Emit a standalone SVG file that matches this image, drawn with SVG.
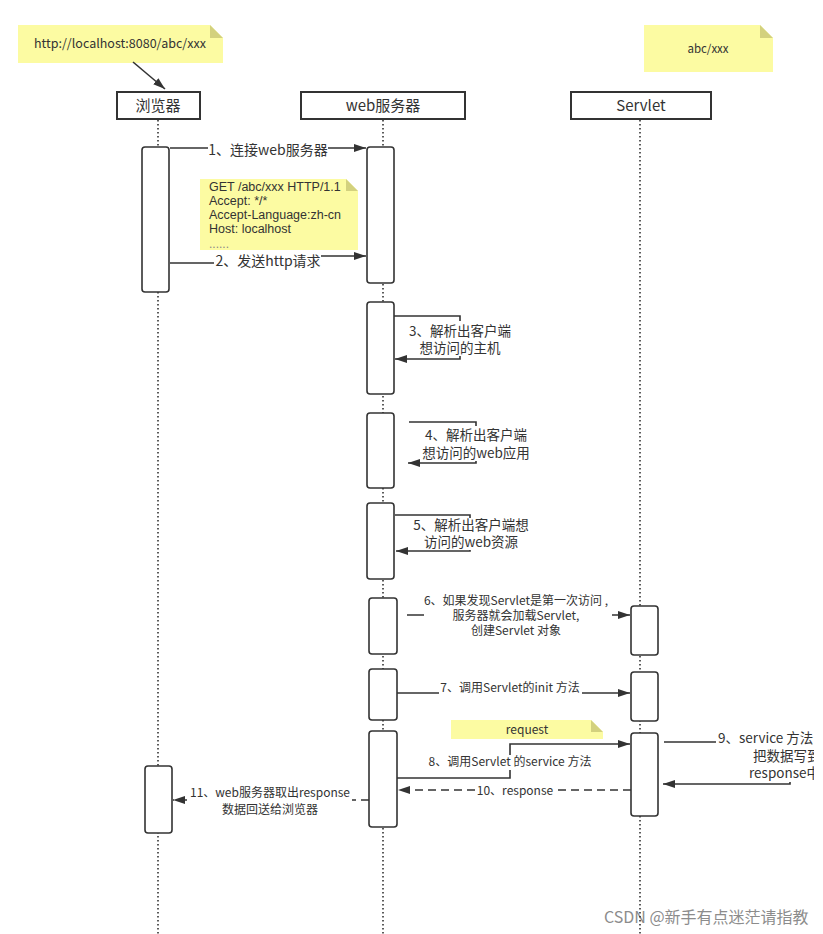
<svg xmlns="http://www.w3.org/2000/svg" width="823" height="934" viewBox="0 0 823 934">
<defs>
<marker id="ah" markerUnits="userSpaceOnUse" markerWidth="13" markerHeight="9" refX="12" refY="4" orient="auto">
<path d="M0,0 L12,4 L0,8 z" fill="#333"/>
</marker>
<clipPath id="clipR"><rect x="0" y="0" width="814" height="934"/></clipPath>
</defs>
<style>
text{font-family:"Noto Sans CJK SC","Noto Sans",sans-serif;fill:#333}
.lat{font-family:"Liberation Sans",Arial,sans-serif}
.hd{fill:#fff;stroke:#333;stroke-width:2}
.act{fill:#fff;stroke:#333;stroke-width:1.6}
.life{stroke:#333;stroke-width:1.6;stroke-dasharray:1.6 2.4;fill:none}
.msg{stroke:#333;stroke-width:1.6;fill:none}
.dash{stroke:#333;stroke-width:1.6;fill:none;stroke-dasharray:8 5}
.bg{fill:#fff}
.note{fill:#fcfba2}
.fold{fill:#d3d17e}
.c{text-anchor:middle}
</style>
<rect width="823" height="934" fill="#fff"/>
<g id="watermark">
<text x="604" y="923" font-size="16" style="fill:#8c8c8c">CSDN @新手有点迷茫请指教</text>
</g>
<g id="lifelines">
<line class="life" x1="158" y1="120" x2="158" y2="934"/>
<line class="life" x1="383" y1="120" x2="383" y2="934"/>
<line class="life" x1="640" y1="120" x2="640" y2="934"/>
</g>
<g id="browser"><rect class="hd" x="117" y="92" width="83" height="27"/><text class="c" x="158" y="111" font-size="15">浏览器</text></g>
<g id="webserver"><rect class="hd" x="301" y="92" width="164" height="27"/><text class="c" x="383" y="111" font-size="15">web服务器</text></g>
<g id="servlet"><rect class="hd" x="571" y="92" width="140" height="27"/><text class="c" x="641" y="111" font-size="15">Servlet</text></g>
<g id="activations">
<rect class="act" x="142" y="147" width="27" height="145" rx="3"/>
<rect class="act" x="145" y="766" width="27" height="67" rx="3"/>
<rect class="act" x="367" y="147" width="27" height="136" rx="3"/>
<rect class="act" x="367" y="302" width="27" height="92" rx="3"/>
<rect class="act" x="367" y="413" width="27" height="75" rx="3"/>
<rect class="act" x="367" y="503" width="27" height="76" rx="3"/>
<rect class="act" x="369" y="598" width="28" height="56" rx="3"/>
<rect class="act" x="369" y="669" width="28" height="51" rx="3"/>
<rect class="act" x="369" y="731" width="28" height="96" rx="3"/>
<rect class="act" x="631" y="606" width="27" height="49" rx="3"/>
<rect class="act" x="631" y="672" width="27" height="49" rx="3"/>
<rect class="act" x="631" y="733" width="27" height="83" rx="3"/>
</g>
<g id="note-url">
<path class="note" d="M18,25 H210 L223,38 V63 H18 z"/>
<path class="fold" d="M210,25 L223,38 H210 z"/>
<text x="34" y="48" font-size="12.5">http://localhost:8080/abc/xxx</text>
</g>
<g id="note-abc">
<path class="note" d="M644,25 H760 L773,38 V72 H644 z"/>
<path class="fold" d="M760,25 L773,38 H760 z"/>
<text class="c" x="708" y="53" font-size="11.5">abc/xxx</text>
</g>
<g id="note-request-header">
<path class="note" d="M200,179 H346 L358,191 V250 H200 z"/>
<path class="fold" d="M346,179 L358,191 H346 z"/>
<text class="lat" x="209" y="190.5" font-size="12.5">GET /abc/xxx HTTP/1.1</text>
<text class="lat" x="209" y="204.8" font-size="12.5">Accept: */*</text>
<text class="lat" x="209" y="219.1" font-size="12.5">Accept-Language:zh-cn</text>
<text class="lat" x="209" y="233.4" font-size="12.5">Host: localhost</text>
<text class="lat" x="209" y="247.7" font-size="12" style="fill:#888">......</text>
</g>
<g id="note-request">
<path class="note" d="M451,720 H591 L603,732 V739 H451 z"/>
<path class="fold" d="M591,720 L603,732 H591 z"/>
<text class="c" x="527" y="734" font-size="12">request</text>
</g>
<g id="connectors">
<line class="msg" x1="133" y1="62" x2="165" y2="89" marker-end="url(#ah)"/>
<path class="msg" d="M170,148 H366" marker-end="url(#ah)"/>
<rect class="bg" x="208" y="140" width="120" height="17"/>
<text class="c" x="268" y="155" font-size="14">1、连接web服务器</text>
<path class="msg" d="M170,263 H240 L250,256 H366" marker-end="url(#ah)"/>
<rect class="bg" x="214" y="253" width="107" height="15"/>
<text class="c" x="268" y="266" font-size="14">2、发送http请求</text>
<path class="msg" d="M394,316 H460 V359 H395" marker-end="url(#ah)"/>
<rect class="bg" x="407" y="321" width="106" height="35"/>
<text class="c" font-size="13.5"><tspan x="460" y="336">3、解析出客户端</tspan><tspan x="460" y="353">想访问的主机</tspan></text>
<path class="msg" d="M409,422 H476 V463 H408" marker-end="url(#ah)"/>
<rect class="bg" x="422" y="426" width="110" height="35"/>
<text class="c" font-size="13.5"><tspan x="476" y="440">4、解析出客户端</tspan><tspan x="476" y="458">想访问的web应用</tspan></text>
<path class="msg" d="M395,515 H470 V551 H396" marker-end="url(#ah)"/>
<rect class="bg" x="412" y="518" width="118" height="32"/>
<text class="c" font-size="13.5"><tspan x="471" y="530">5、解析出客户端想</tspan><tspan x="471" y="547">访问的web资源</tspan></text>
<path class="msg" d="M407,615 H630" marker-end="url(#ah)"/>
<rect class="bg" x="424" y="593" width="188" height="45"/>
<text class="c" font-size="12"><tspan x="516" y="605">6、如果发现Servlet是第一次访问 ,</tspan><tspan x="516" y="620">服务器就会加载Servlet,</tspan><tspan x="516" y="635">创建Servlet 对象</tspan></text>
<path class="msg" d="M397,693 H630" marker-end="url(#ah)"/>
<rect class="bg" x="439" y="680" width="143" height="16"/>
<text class="c" x="510" y="692" font-size="12">7、调用Servlet的init 方法</text>
<path class="msg" d="M397,778 H510 V744 H630" marker-end="url(#ah)"/>
<rect class="bg" x="426" y="755" width="170" height="15"/>
<text class="c" x="510" y="766" font-size="12">8、调用Servlet 的service 方法</text>
<path class="dash" d="M631,790 H398" marker-end="url(#ah)"/>
<rect class="bg" x="475" y="783" width="80" height="14"/>
<text class="c" x="515" y="795" font-size="12">10、response</text>
<path class="dash" d="M369,800 H173" marker-end="url(#ah)"/>
<rect class="bg" x="188" y="784" width="164" height="34"/>
<text class="c" font-size="12"><tspan x="270" y="797">11、web服务器取出response</tspan><tspan x="270" y="814">数据回送给浏览器</tspan></text>
<g clip-path="url(#clipR)">
<path class="msg" d="M664,742 H790 V784 H663" marker-end="url(#ah)"/>
<rect class="bg" x="716" y="726" width="110" height="56"/>
<text font-size="13.5"><tspan x="718" y="743">9、service 方法</tspan><tspan x="753" y="761">把数据写到</tspan><tspan x="749" y="778">response中</tspan></text>
</g>
</g>
</svg>
